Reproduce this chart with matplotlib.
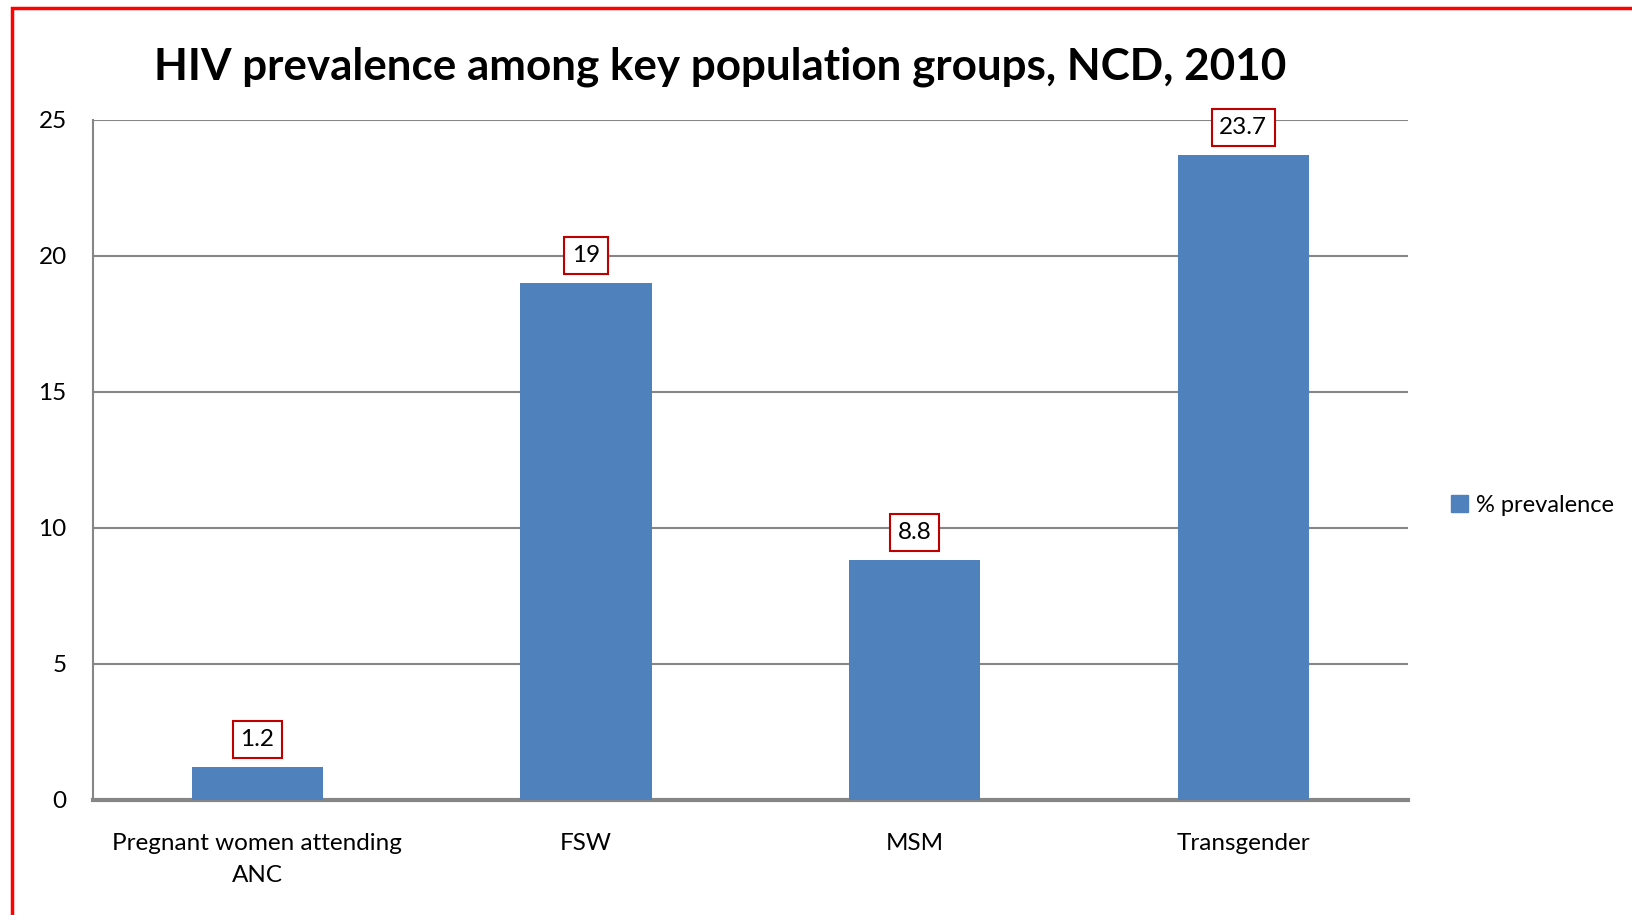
import matplotlib.pyplot as plt
from matplotlib.patches import Rectangle, Patch

# Data
categories = ['Pregnant women attending\nANC', 'FSW', 'MSM', 'Transgender']
prevalence = [1.2, 19, 8.8, 23.7]
value_labels = ['1.2', '19', '8.8', '23.7']

plt.rcParams['font.family'] = ['Lato', 'DejaVu Sans']

fig = plt.figure(figsize=(16.33, 9.15), dpi=100)
ax = fig.add_axes([0.057, 0.126, 0.805, 0.743])

bar_color = '#4F81BD'
x = range(len(categories))
bars = ax.bar(x, prevalence, width=0.4, color=bar_color, zorder=3)

for xi, v, lab in zip(x, prevalence, value_labels):
    ax.annotate(lab, (xi, v), xytext=(0, 20), textcoords='offset points',
                ha='center', va='center', fontsize=17.5,
                bbox=dict(boxstyle='square,pad=0.32', fc='white', ec='#C00000', lw=1.5),
                zorder=5)

ax.set_xlim(-0.5, 3.5)
ax.set_ylim(0, 25)
ax.set_yticks([0, 5, 10, 15, 20, 25])
ax.set_xticks(list(x))
ax.set_xticklabels(categories, fontsize=17.5, linespacing=1.65)
ax.tick_params(axis='y', labelsize=17.5, length=0, pad=19)
ax.tick_params(axis='x', length=0, pad=24)
ax.grid(axis='y', color='#868686', lw=1.5, zorder=0)

for side in ['top', 'right']:
    ax.spines[side].set_visible(False)
ax.spines['left'].set_color('#868686')
ax.spines['left'].set_linewidth(1.5)
ax.spines['bottom'].set_color('#868686')
ax.spines['bottom'].set_linewidth(3)

fig.text(0.441, 0.927, 'HIV prevalence among key population groups, NCD, 2010',
         ha='center', va='center', fontsize=31.7, fontweight='bold')

ax.legend(handles=[Patch(color=bar_color, label='% prevalence')],
          loc='center left', bbox_to_anchor=(1.017, 0.433), frameon=False,
          fontsize=17, handlelength=0.7, handleheight=0.7, handletextpad=0.35)

# red frame around the chart
fig.patches.append(Rectangle((12 / 1633, -0.05), 1.05, 1 - 8 / 915 + 0.05,
                             transform=fig.transFigure, fill=False,
                             ec='red', lw=2.5))

fig.savefig('out.png', dpi=100)
